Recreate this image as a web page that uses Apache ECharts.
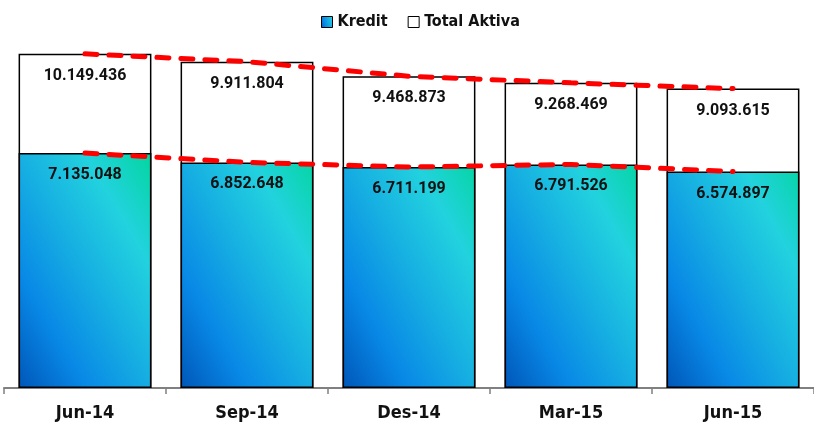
<!DOCTYPE html>
<html>
<head>
<meta charset="utf-8">
<script src="https://cdn.jsdelivr.net/npm/echarts@6/dist/echarts.min.js"></script>
<style>
  html, body { margin: 0; padding: 0; background: #fff; }
  #chart { width: 814px; height: 432px; }
</style>
</head>
<body>
<div id="chart"></div>
<script>
  // data
  const categories = ['Jun-14', 'Sep-14', 'Des-14', 'Mar-15', 'Jun-15'];
  const kredit = [7135048, 6852648, 6711199, 6791526, 6574897];
  const totalAktiva = [10149436, 9911804, 9468873, 9268469, 9093615];

  const narrow = '"Liberation Sans Narrow", "DejaVu Sans Condensed", "Liberation Sans", sans-serif';

  // format 10149436 -> 10.149.436
  function dotted(v) {
    return String(v).replace(/\B(?=(\d{3})+(?!\d))/g, '.');
  }

  // diagonal fill, stretched with the shape like the office chart
  const blueFill = new echarts.graphic.LinearGradient(0, 1, 1.5, 0.5, [
    {offset: 0, color: '#0056b8'},
    {offset: 0.25, color: '#0888e6'},
    {offset: 0.5, color: '#16aee2'},
    {offset: 0.76, color: '#22d2de'},
    {offset: 1, color: '#04d6a2'}
  ]);

  const valueLabel = {
    show: true,
    position: 'insideTop',
    distance: 14,
    color: '#111',
    fontFamily: 'Roboto, "Liberation Sans", sans-serif',
    fontWeight: 'bold',
    fontSize: 16,
    formatter: function (p) { return dotted(p.value); }
  };

  const myChart = echarts.init(document.getElementById('chart'));
  myChart.setOption({
    animation: false,
    legend: {
      data: ['Kredit', 'Total Aktiva'],
      top: 9,
      left: 316,
      icon: 'rect',
      itemWidth: 11,
      itemHeight: 11,
      itemGap: 20,
      itemStyle: {borderColor: '#000', borderWidth: 1},
      textStyle: {color: '#111', fontFamily: narrow, fontWeight: 'bold', fontSize: 16}
    },
    grid: {top: 40, left: 4, right: 0, bottom: 44},
    xAxis: {
      type: 'category',
      data: categories,
      boundaryGap: true,
      axisLine: {lineStyle: {color: '#808080', width: 2}},
      axisTick: {show: true, length: 6, lineStyle: {color: '#808080', width: 1.5}},
      axisLabel: {
        margin: 16,
        color: '#111',
        fontFamily: narrow,
        fontWeight: 'bold',
        fontSize: 18
      }
    },
    yAxis: {type: 'value', min: 0, max: 10570000, show: false},
    series: [
      {
        name: 'Total Aktiva',
        type: 'bar',
        barWidth: '82%',
        barGap: '-100%',
        data: totalAktiva,
        itemStyle: {color: '#fff', borderColor: '#000', borderWidth: 1.5},
        label: valueLabel,
        z: 2
      },
      {
        name: 'Kredit',
        type: 'bar',
        barWidth: '82%',
        data: kredit,
        itemStyle: {color: blueFill, borderColor: '#000', borderWidth: 1.5},
        label: valueLabel,
        z: 3
      },
      {
        name: 'trendTotal',
        type: 'line',
        data: totalAktiva,
        symbol: 'none',
        silent: true,
        lineStyle: {color: '#ff0000', width: 5, type: [12, 12], cap: 'round'},
        z: 5
      },
      {
        name: 'trendKredit',
        type: 'line',
        data: kredit,
        symbol: 'none',
        silent: true,
        lineStyle: {color: '#ff0000', width: 5, type: [12, 12], cap: 'round'},
        z: 5
      }
    ]
  });
</script>
</body>
</html>
